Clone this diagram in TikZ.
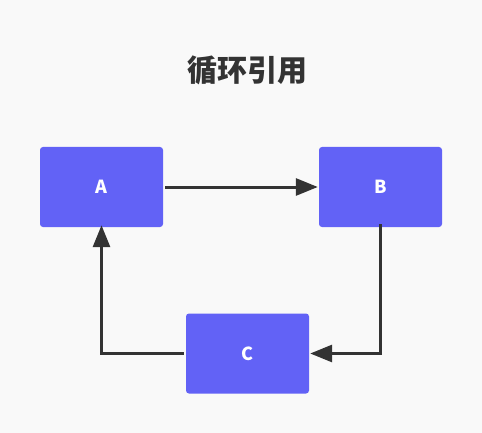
\documentclass[tikz,border=0pt]{standalone}
\usepackage{fontspec}
\newfontfamily\cjk{Noto Sans CJK SC}
\usetikzlibrary{arrows.meta}
\definecolor{bg}{HTML}{F9F9F9}
\definecolor{boxc}{HTML}{6262F6}
\definecolor{linec}{HTML}{333333}
\tikzset{
  box/.style={fill=boxc, draw=none, rounded corners=3pt, minimum width=123pt, minimum height=80pt, inner sep=0pt, text=white, font=\cjk\bfseries\fontsize{18}{21}\selectfont},
  conn/.style={draw=linec, line width=3pt, -{Triangle[length=22pt,width=17pt]}}
}
\begin{document}
\begin{tikzpicture}[x=1pt,y=-1pt]
\fill[bg] (0,0) rectangle (482,433);
\useasboundingbox (0,0) rectangle (482,433);
\node[text=linec, font=\cjk\bfseries\fontsize{30}{34}\selectfont] (title) at (247.5,70) {循环引用};
\node[box] (A) at (101.5,187) {A};
\node[box] (B) at (380.5,187) {B};
\node[box] (C) at (247.5,353.5) {C};
\draw[conn] ([xshift=2pt]A.east) -- ([xshift=-1pt]B.west);
\draw[conn] ([yshift=3pt]B.south) |- ([xshift=1pt]C.east);
\draw[conn] ([xshift=-2pt]C.west) -| ([yshift=2pt]A.south);
\end{tikzpicture}
\end{document}
